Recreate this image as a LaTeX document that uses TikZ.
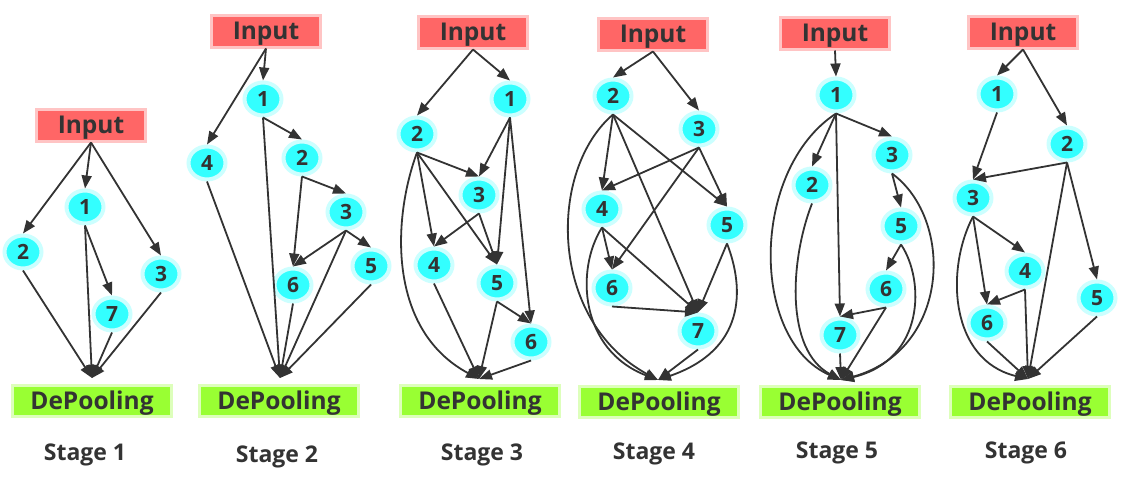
\documentclass[tikz,border=0pt]{standalone}
\usepackage{fontspec}
\setmainfont{Open Sans}
\usetikzlibrary{arrows.meta,shapes.geometric}
\definecolor{txt}{HTML}{333333}
\definecolor{arr}{HTML}{333333}
\definecolor{inred}{HTML}{FF6666}
\definecolor{inborder}{HTML}{FFC4C4}
\definecolor{cyanf}{HTML}{33FFFF}
\definecolor{cyanh}{HTML}{CCFFFF}
\definecolor{dpgreen}{HTML}{99FF33}
\definecolor{dpborder}{HTML}{DDFFBB}
\tikzset{
  inp/.style={rectangle, fill=inred, draw=inborder, line width=3pt, minimum width=109pt, minimum height=32pt, inner sep=0pt, text height=17pt, text depth=0pt, font=\fontsize{24.5}{26}\selectfont\bfseries, text=txt},
  dpool/.style={rectangle, fill=dpgreen, draw=dpborder, line width=3pt, minimum width=159pt, minimum height=31pt, inner sep=0pt, text height=17pt, text depth=0pt, font=\fontsize{24.5}{26}\selectfont\bfseries, text=txt},
  num/.style={ellipse, fill=cyanf, draw=cyanh, line width=4pt, minimum width=37pt, minimum height=33pt, inner sep=0pt, text height=15pt, text depth=0pt, font=\fontsize{21}{22}\selectfont\bfseries, text=txt},
  lbl/.style={font=\fontsize{23}{25}\selectfont\bfseries, text=txt},
  edg/.style={draw=arr, line width=1.8pt, -{Triangle[length=13pt,width=10pt]}},
}
\begin{document}
\begin{tikzpicture}[x=1pt,y=-1pt]
\useasboundingbox (0,0) rectangle (1132,482);
\fill[white] (0,0) rectangle (1132,482);
% ---------------- Stage 1
\node[inp] (s1in) at (91,125) {Input};
\node[num] (s1n1) at (85,207) {1};
\node[num] (s1n2) at (23,252) {2};
\node[num] (s1n3) at (161,274) {3};
\node[num] (s1n7) at (112,314) {7};
\node[dpool] (s1dp) at (92,401) {DePooling};
\coordinate (s1t) at (92,378);
\node[lbl] (s1lab) at (85,455) {Stage 1};
\draw[edg] (s1in.south) -- (s1n1.north);
\draw[edg] (s1in.south) -- (s1n2.north);
\draw[edg] (s1in.south) -- (s1n3.north);
\draw[edg] (s1n1.south) -- (s1n7.north);
\draw[edg] (s1n1.south) -- (s1t);
\draw[edg] (s1n2.south) -- (s1t);
\draw[edg] (s1n7.south) -- (s1t);
\draw[edg] (s1n3.south) -- (s1t);
% ---------------- Stage 2
\node[inp] (s2in) at (266,31) {Input};
\node[num] (s2n1) at (263,99) {1};
\node[num] (s2n4) at (207,163) {4};
\node[num] (s2n2) at (302,158) {2};
\node[num] (s2n3) at (346,212) {3};
\node[num] (s2n5) at (371,266) {5};
\node[num] (s2n6) at (293,285) {6};
\node[dpool] (s2dp) at (279,401) {DePooling};
\coordinate (s2t) at (280,378);
\node[lbl] (s2lab) at (277,457) {Stage 2};
\draw[edg] (s2in.south) -- (s2n1.north);
\draw[edg] (s2in.south) -- (s2n4.north);
\draw[edg] (s2n1.south) -- (s2n2.north);
\draw[edg] (s2n1.south) -- (s2t);
\draw[edg] (s2n2.south) -- (s2n3.north);
\draw[edg] (s2n2.south) -- (s2n6.north);
\draw[edg] (s2n3.south) -- (s2n6.north);
\draw[edg] (s2n3.south) -- (s2n5.north);
\draw[edg] (s2n3.south) -- (s2t);
\draw[edg] (s2n4.south) -- (s2t);
\draw[edg] (s2n6.south) -- (s2t);
\draw[edg] (s2n5.south) -- (s2t);
% ---------------- Stage 3
\node[inp] (s3in) at (473,32) {Input};
\node[num] (s3n1) at (510,99) {1};
\node[num] (s3n2) at (417,134) {2};
\node[num] (s3n3) at (479,195) {3};
\node[num] (s3n4) at (434,265) {4};
\node[num] (s3n5) at (497,283) {5};
\node[num] (s3n6) at (531,342) {6};
\node[dpool] (s3dp) at (480,401) {DePooling};
\coordinate (s3t) at (479,379);
\node[lbl] (s3lab) at (482,455) {Stage 3};
\draw[edg] (s3in.south) -- (s3n2.north);
\draw[edg] (s3in.south) -- (s3n1.north);
\draw[edg] (s3n1.south) -- (s3n3.north);
\draw[edg] (s3n1.south) -- (s3n5.north);
\draw[edg] (s3n1.south) -- (s3n6.north);
\draw[edg] (s3n2.south) -- (s3n3.north);
\draw[edg] (s3n2.south) -- (s3n4.north);
\draw[edg] (s3n2.south) -- (s3n5.north);
\draw[edg] (s3n2.south) .. controls (392,220) and (388,330) .. (s3t);
\draw[edg] (s3n3.south) -- (s3n4.north);
\draw[edg] (s3n3.south) -- (s3n5.north);
\draw[edg] (s3n4.south) -- (s3t);
\draw[edg] (s3n5.south) -- (s3n6.north);
\draw[edg] (s3n5.south) -- (s3t);
\draw[edg] (s3n6.south) -- (s3t);
% ---------------- Stage 4
\node[inp] (s4in) at (653,34) {Input};
\node[num] (s4n2) at (613,96) {2};
\node[num] (s4n3) at (699,129) {3};
\node[num] (s4n4) at (602,209) {4};
\node[num] (s4n5) at (727,225) {5};
\node[num] (s4n6) at (612,288) {6};
\node[num] (s4n7) at (698,331) {7};
\node[dpool] (s4dp) at (659,402) {DePooling};
\coordinate (s4t) at (658,380);
\node[lbl] (s4lab) at (654,454) {Stage 4};
\draw[edg] (s4in.south) -- (s4n2.north);
\draw[edg] (s4in.south) -- (s4n3.north);
\draw[edg] (s4n2.south) -- (s4n4.north);
\draw[edg] (s4n2.south) -- (s4n5.north);
\draw[edg] (s4n2.south) -- (s4n7.north);
\draw[edg] (s4n2.south) .. controls (548,170) and (548,320) .. (s4t);
\draw[edg] (s4n3.south) -- (s4n4.north);
\draw[edg] (s4n3.south) -- (s4n6.north);
\draw[edg] (s4n3.south) -- (s4n5.north);
\draw[edg] (s4n4.south) -- (s4n6.north);
\draw[edg] (s4n4.south) -- (s4n7.north);
\draw[edg] (s4n4.south) .. controls (575,270) and (580,350) .. (s4t);
\draw[edg] (s4n5.south) -- (s4n7.north);
\draw[edg] (s4n5.south) .. controls (745,290) and (745,350) .. (s4t);
\draw[edg] (s4n6.south) -- (s4n7.north);
\draw[edg] (s4n7.south) -- (s4t);
% ---------------- Stage 5
\node[inp] (s5in) at (835,33) {Input};
\node[num] (s5n1) at (836,95) {1};
\node[num] (s5n2) at (812,185) {2};
\node[num] (s5n3) at (892,155) {3};
\node[num] (s5n5) at (901,226) {5};
\node[num] (s5n6) at (886,289) {6};
\node[num] (s5n7) at (840,335) {7};
\node[dpool] (s5dp) at (840,402) {DePooling};
\coordinate (s5t) at (841,380);
\node[lbl] (s5lab) at (837,453) {Stage 5};
\draw[edg] (s5in.south) -- (s5n1.north);
\draw[edg] (s5n1.south) -- (s5n2.north);
\draw[edg] (s5n1.south) -- (s5n3.north);
\draw[edg] (s5n1.south) -- (s5n7.north);
\draw[edg] (s5n1.south) .. controls (750,170) and (750,340) .. (s5t);
\draw[edg] (s5n2.south) .. controls (790,260) and (785,350) .. (s5t);
\draw[edg] (s5n3.south) -- (s5n5.north);
\draw[edg] (s5n3.south) .. controls (955,220) and (950,350) .. (s5t);
\draw[edg] (s5n5.south) -- (s5n6.north);
\draw[edg] (s5n5.south) .. controls (925,280) and (925,360) .. (s5t);
\draw[edg] (s5n6.south) -- (s5n7.north);
\draw[edg] (s5n6.south) -- (s5t);
\draw[edg] (s5n7.south) -- (s5t);
% ---------------- Stage 6
\node[inp] (s6in) at (1023,32) {Input};
\node[num] (s6n1) at (997,94) {1};
\node[num] (s6n2) at (1067,144) {2};
\node[num] (s6n3) at (973,198) {3};
\node[num] (s6n4) at (1025,271) {4};
\node[num] (s6n5) at (1097,298) {5};
\node[num] (s6n6) at (987,323) {6};
\node[dpool] (s6dp) at (1030,402) {DePooling};
\coordinate (s6t) at (1028,379);
\node[lbl] (s6lab) at (1026,453) {Stage 6};
\draw[edg] (s6in.south) -- (s6n1.north);
\draw[edg] (s6in.south) -- (s6n2.north);
\draw[edg] (s6n1.south) -- (s6n3.north);
\draw[edg] (s6n2.south) -- (s6n3.north);
\draw[edg] (s6n2.south) -- (s6n5.north);
\draw[edg] (s6n2.south) -- (s6t);
\draw[edg] (s6n3.south) -- (s6n4.north);
\draw[edg] (s6n3.south) -- (s6n6.north);
\draw[edg] (s6n3.south) .. controls (945,270) and (950,360) .. (s6t);
\draw[edg] (s6n4.south) -- (s6n6.north);
\draw[edg] (s6n4.south) -- (s6t);
\draw[edg] (s6n5.south) -- (s6t);
\draw[edg] (s6n6.south) -- (s6t);
\end{tikzpicture}
\end{document}
